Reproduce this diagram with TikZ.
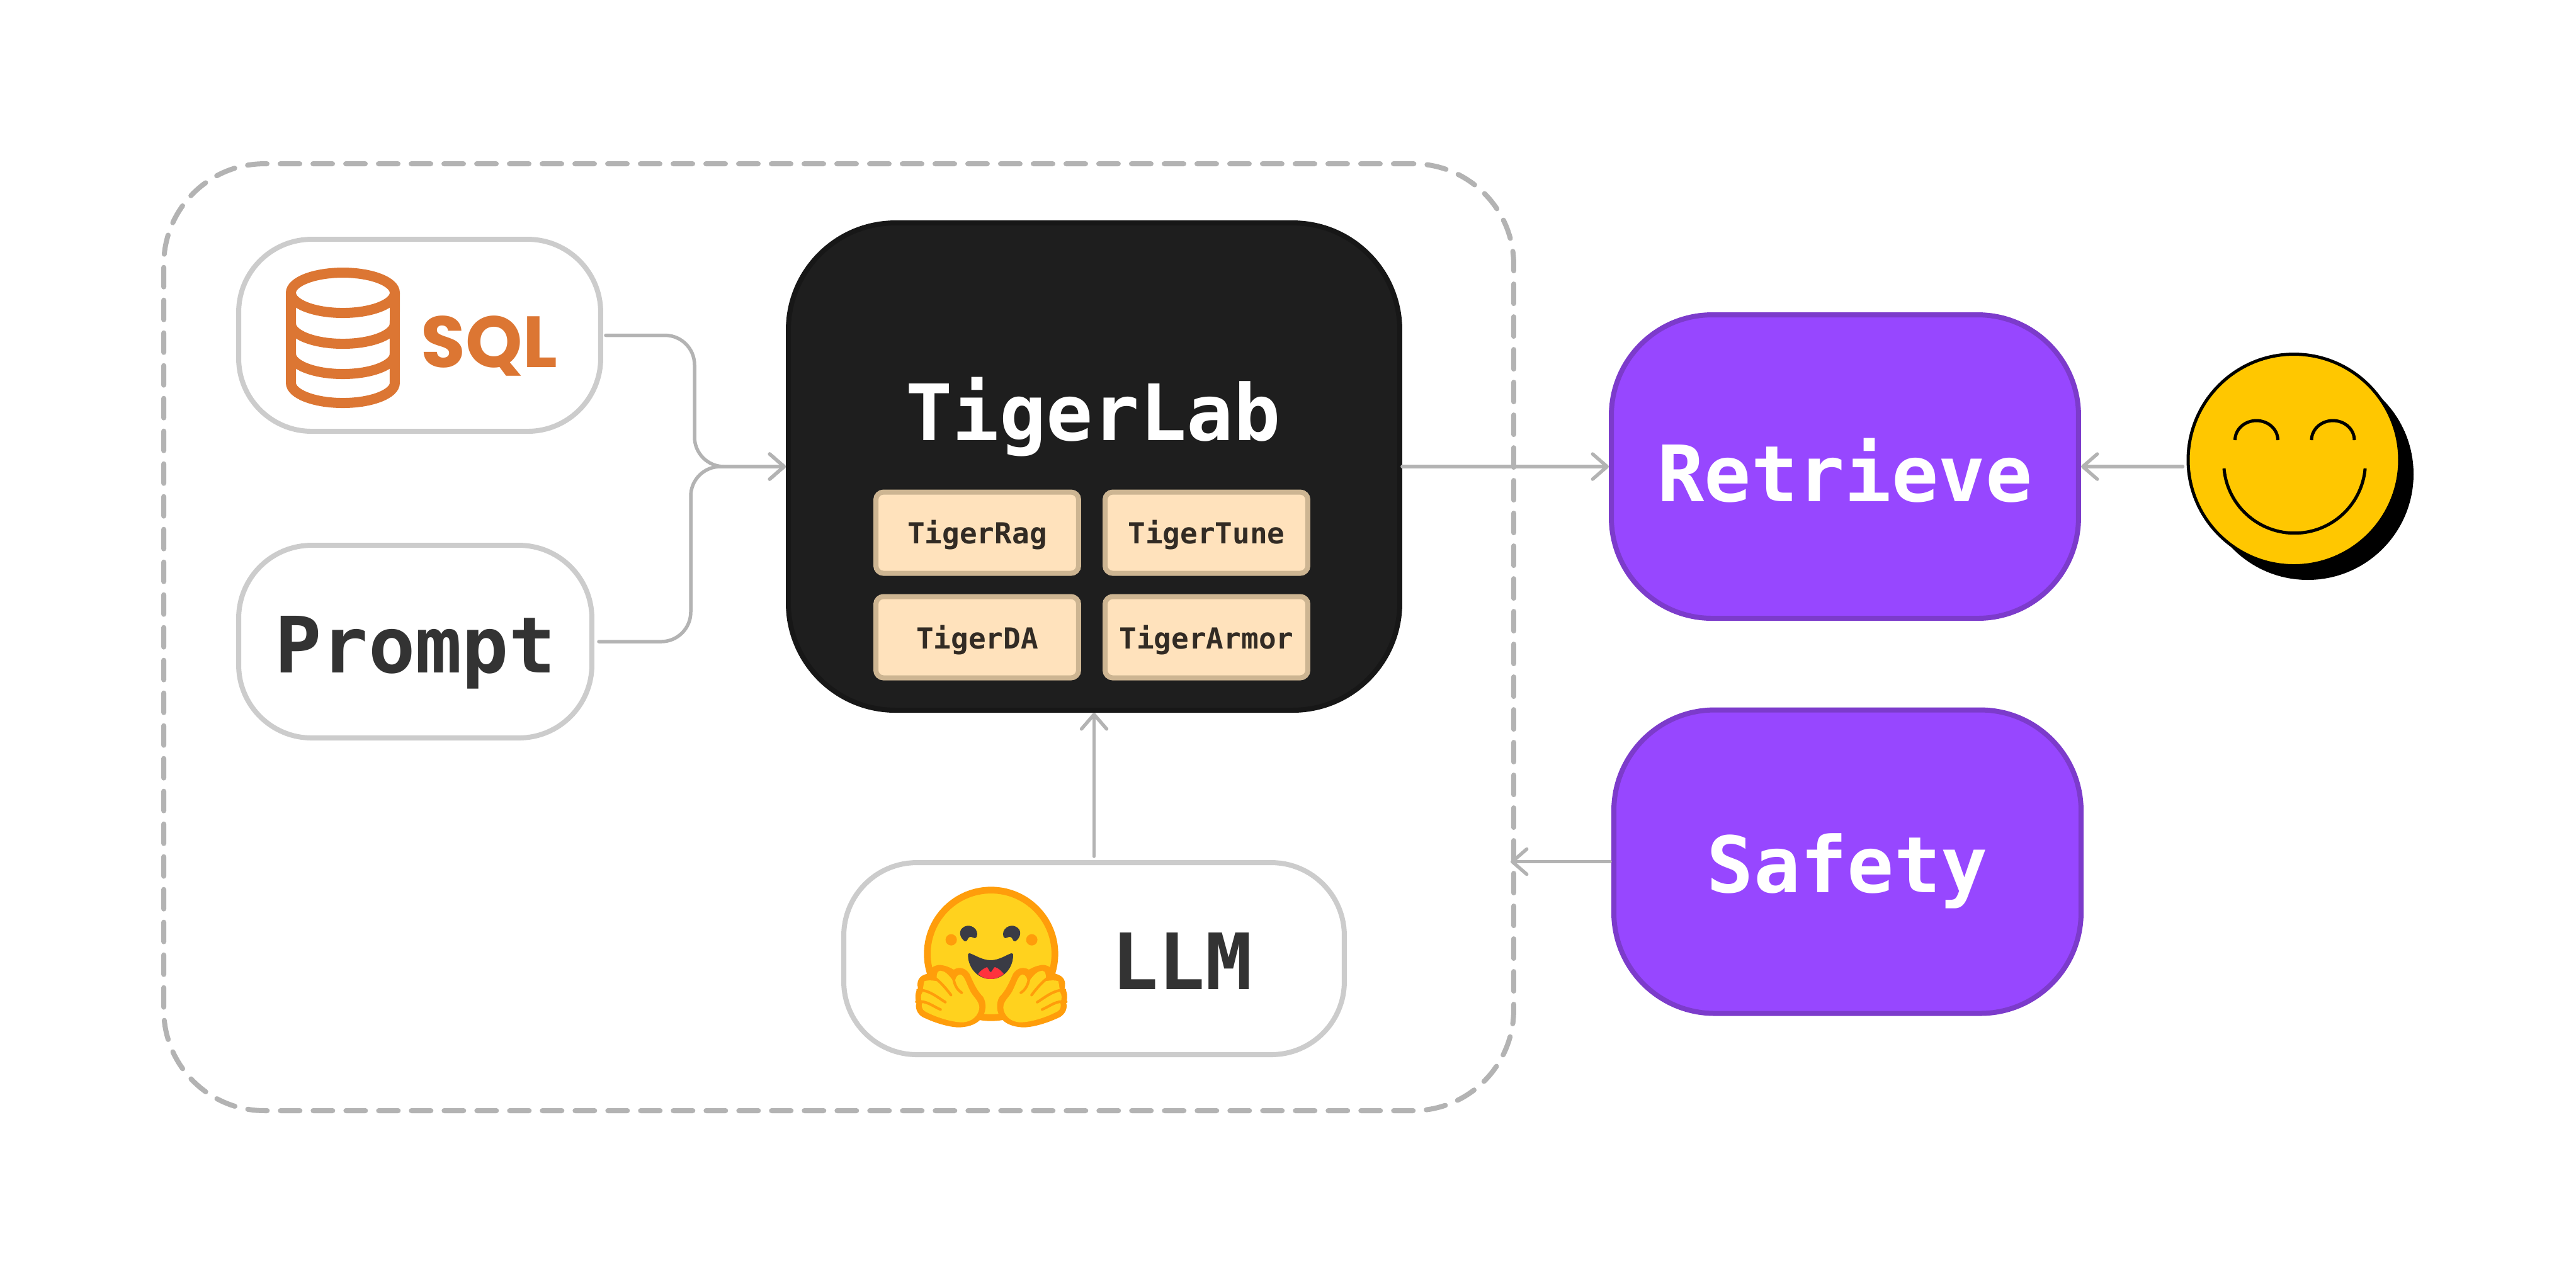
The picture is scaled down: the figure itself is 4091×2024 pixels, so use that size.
\documentclass[tikz,border=0pt]{standalone}
\usepackage{fontspec}
\setmonofont{DejaVu Sans Mono}
\newfontfamily\sqlfont{Poppins}
\usetikzlibrary{arrows.meta}
\definecolor{FlowGray}{HTML}{B3B3B3}
\definecolor{PillGray}{HTML}{CCCCCC}
\definecolor{InkGray}{HTML}{333333}
\definecolor{LabBlack}{HTML}{1E1E1E}
\definecolor{LabEdge}{HTML}{171717}
\definecolor{ChipFill}{HTML}{FFE2BC}
\definecolor{ChipEdge}{HTML}{CDB592}
\definecolor{ChipInk}{HTML}{322B24}
\definecolor{HubPurple}{HTML}{9747FF}
\definecolor{HubEdge}{HTML}{7C3BCB}
\definecolor{SqlOrange}{HTML}{DC7633}
\definecolor{SmileGold}{HTML}{FFC700}
\definecolor{HugYellow}{HTML}{FFD21E}
\definecolor{HugOrange}{HTML}{FF9D0B}
\definecolor{HugDark}{HTML}{3A3B45}
\definecolor{HugRed}{HTML}{FF323D}
\tikzset{
  bigmono/.style={font=\fontsize{12.35pt}{13pt}\selectfont\ttfamily\bfseries},
  pillbox/.style={draw=PillGray, fill=white, line width=0.8pt, rounded corners=11.6pt, inner sep=0pt},
  hubbox/.style={draw=HubEdge, fill=HubPurple, line width=0.8pt, rounded corners=16pt, inner sep=0pt,
    minimum width=74.2pt, minimum height=48.2pt, text=white, text depth=0pt, bigmono},
  chipbox/.style={draw=ChipEdge, fill=ChipFill, line width=0.8pt, rounded corners=1.2pt, inner sep=0pt,
    minimum width=32.2pt, minimum height=12.9pt, text=ChipInk, text depth=0pt,
    font=\fontsize{4.6pt}{5pt}\selectfont\ttfamily\bfseries},
  flow/.style={draw=FlowGray, line width=0.55pt, line cap=round,
    -{Straight Barb[length=2.3pt,width=4pt,round]}},
  dbline/.style={draw=SqlOrange, line width=1.6pt},
  facemark/.style={draw=black, line width=0.5pt}
}
\begin{document}
\begin{tikzpicture}[x=0.1pt,y=-0.1pt]
  \useasboundingbox (0,0) rectangle (4091,2024);

  % Outer dashed frame
  \node[draw=FlowGray, line width=0.8pt, line cap=round, dash pattern=on 3.1pt off 2.1pt,
    rounded corners=16pt, inner sep=0pt, minimum width=214.4pt, minimum height=150.4pt] (frame) at (1332,1012) {};

  % Inputs
  \node[pillbox, minimum width=57.5pt, minimum height=30.5pt] (sqlbox) at (666.5,532.5) {};
  \node[pillbox, minimum width=56.1pt, minimum height=30.6pt, text=InkGray, text depth=0pt, text height=9.8pt, bigmono] (promptbox) at (659.5,1019) {Prompt};
  \node[pillbox, minimum width=79.5pt, minimum height=30.5pt] (llmbox) at (1737.5,1522.5) {};

  % Database icon and SQL word
  \draw[dbline] (544.5,465) ellipse (8.25pt and 3.2pt);
  \draw[dbline] (462,465) -- (462,608) arc (180:360:8.25pt and 3.2pt) -- (627,465);
  \foreach \bandy in {514,562} {
    \draw[dbline] (462,\bandy) arc (180:360:8.25pt and 3.2pt);
  }
  \node[anchor=base, inner sep=0pt, text=SqlOrange, font=\fontsize{11.5pt}{12pt}\selectfont\sqlfont\bfseries] (sqlword) at (777,583) {SQL};

  % Main block
  \node[draw=LabEdge, fill=LabBlack, line width=0.8pt, rounded corners=17pt, inner sep=0pt,
    minimum width=97.1pt, minimum height=77.4pt] (lab) at (1737.5,741) {};
  \node[anchor=base, inner sep=0pt, text=white, bigmono] (labname) at (1736,699) {TigerLab};
  \node[chipbox, text height=3.4pt] (ragchip) at (1552,846) {TigerRag};
  \node[chipbox, text height=3.4pt] (tunechip) at (1916,846) {TigerTune};
  \node[chipbox, text height=3.6pt] (dachip) at (1552,1012) {TigerDA};
  \node[chipbox, text height=3.6pt] (armorchip) at (1916,1012) {TigerArmor};

  % Right side blocks
  \node[hubbox, text height=11pt] (retrieve) at (2930,741) {Retrieve};
  \node[hubbox, text height=9.8pt] (safety) at (2934,1368.5) {Safety};

  % Smiley
  \fill[black] (3665,753) circle (16.8pt);
  \node[circle, draw=black, fill=SmileGold, line width=0.5pt, inner sep=0pt, minimum size=33.6pt] (smile) at (3643,730.5) {};
  \draw[facemark] (3549.5,699) arc (180:0:3.4pt and 3.1pt);
  \draw[facemark] (3671,699) arc (180:0:3.4pt and 3.1pt);
  \draw[facemark] (3532,744) arc (185:355:11.25pt);

  % Hugging emoji, coordinates in a finer grid
  \begin{scope}[shift={(1440,1400)},x=0.03333pt,y=-0.03333pt]
    \draw[draw=HugOrange, fill=HugYellow, line width=1.07pt] (402,345) circle (10.13pt);
    \foreach \cheekx in {212,596} {
      \fill[HugOrange] (\cheekx,278) circle (0.9pt);
    }
    \foreach \eyeshift/\eyeflip in {0/1,795/-1} {
      \begin{scope}[shift={(\eyeshift,0)},xscale=\eyeflip]
        \fill[HugDark] (277,285) .. controls (255,270) and (245,240) .. (265,222)
          .. controls (290,198) and (335,215) .. (336,250)
          .. controls (336,270) and (325,272) .. (318,268)
          .. controls (305,262) and (298,262) .. (292,272)
          .. controls (288,282) and (282,288) .. (277,285) -- cycle;
      \end{scope}
    }
    \fill[HugDark] (300,342) .. controls (325,350) and (360,375) .. (400,375)
      .. controls (440,375) and (475,350) .. (498,342)
      .. controls (506,340) and (508,346) .. (507,355)
      .. controls (505,415) and (460,465) .. (400,465)
      .. controls (340,465) and (295,415) .. (292,355)
      .. controls (291,346) and (293,340) .. (300,342) -- cycle;
    \fill[HugRed] (340,441) .. controls (350,425) and (370,412) .. (383,408)
      .. controls (390,415) and (393,430) .. (400,432)
      .. controls (407,430) and (410,415) .. (420,408)
      .. controls (435,412) and (450,425) .. (463,441)
      .. controls (445,455) and (425,465) .. (400,465)
      .. controls (375,465) and (355,455) .. (340,441) -- cycle;
  \end{scope}
  \begin{scope}[shift={(1448,1525)},x=0.03333pt,y=-0.03333pt]
    \foreach \handshift/\handflip in {0/1,758/-1} {
      \begin{scope}[shift={(\handshift,0)},xscale=\handflip]
        \fill[HugOrange] (325,285) .. controls (300,310) and (260,320) .. (220,320)
          .. controls (170,318) and (100,295) .. (50,270)
          .. controls (25,255) and (15,225) .. (22,205)
          .. controls (15,180) and (15,150) .. (30,135)
          .. controls (22,105) and (30,75) .. (72,65)
          .. controls (85,35) and (120,15) .. (150,25)
          .. controls (175,30) and (190,40) .. (200,45)
          .. controls (225,30) and (255,35) .. (275,65)
          .. controls (295,110) and (310,145) .. (340,175)
          .. controls (355,200) and (360,250) .. (325,285) -- cycle;
        \fill[HugYellow] (322,225) .. controls (320,260) and (290,295) .. (240,296)
          .. controls (190,296) and (110,270) .. (62,243)
          .. controls (48,235) and (45,215) .. (50,205)
          .. controls (42,185) and (42,165) .. (50,155)
          .. controls (55,135) and (55,115) .. (60,100)
          .. controls (75,95) and (95,95) .. (118,100)
          .. controls (118,80) and (118,50) .. (135,50)
          .. controls (155,50) and (175,65) .. (205,110)
          .. controls (205,90) and (215,68) .. (230,68)
          .. controls (250,70) and (260,110) .. (275,140)
          .. controls (290,175) and (320,190) .. (322,225) -- cycle;
        \draw[HugOrange, line width=0.42pt, line cap=round] (90,70) .. controls (130,95) and (160,130) .. (187,166);
        \draw[HugOrange, line width=0.42pt, line cap=round] (28,142) .. controls (80,140) and (120,175) .. (160,200);
        \draw[HugOrange, line width=0.42pt, line cap=round] (22,198) .. controls (70,190) and (100,220) .. (137,235);
        \draw[HugOrange, line width=0.42pt, line cap=round] (198,55) .. controls (195,90) and (205,135) .. (238,155);
      \end{scope}
    }
  \end{scope}
  \node[anchor=base, inner sep=0pt, text=InkGray, bigmono] (llmword) at (1877,1571) {LLM};

  % Connectors
  \coordinate (sqlbend) at (1103,640);
  \coordinate (promptbend) at (1097,880);
  \draw[flow, rounded corners=4.7pt, shorten <=0.4pt, shorten >=0pt] (sqlbox.east) -| (sqlbend) |- (lab.west);
  \draw[flow, rounded corners=4.7pt, shorten <=0.7pt, shorten >=0pt] (promptbox.east) -| (promptbend) |- (lab.west);
  \draw[flow, shorten >=0pt] (lab.east) -- (retrieve.west);
  \draw[flow, shorten <=0.6pt, shorten >=0pt] (smile.west |- retrieve.east) -- (retrieve.east);
  \draw[flow, shorten <=0.2pt, shorten >=-0.9pt] (safety.west) -- (frame.east |- safety.west);
  \draw[flow, shorten <=0.6pt, shorten >=0pt] (llmbox.north) -- (lab.south);
\end{tikzpicture}
\end{document}
